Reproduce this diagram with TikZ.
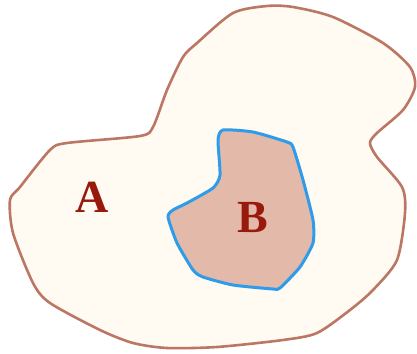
\documentclass[tikz,border=0pt]{standalone}
\usepackage{fontspec}
\setmainfont{Liberation Serif}
\definecolor{creamfill}{HTML}{FFFAF2}
\definecolor{brownline}{HTML}{BC7764}
\definecolor{pinkfill}{HTML}{E3B9A9}
\definecolor{blueline}{HTML}{2E9CEA}
\definecolor{labelred}{HTML}{981A0C}
\begin{document}
\begin{tikzpicture}[x=1pt,y=-1pt,
  regionA/.style={fill=creamfill,draw=brownline,line width=2.6pt,line join=round},
  regionB/.style={fill=pinkfill,draw=blueline,line width=3pt,line join=round},
  setlabel/.style={text=labelred,font=\fontsize{46}{46}\selectfont\bfseries,inner sep=0pt}]
\useasboundingbox (0,0) rectangle (417,353);
\draw[regionA] plot[smooth cycle,tension=0.45] coordinates {
 (267,6) (233,13) (197,43) (183,57) (167,90) (153,127) (140,136) (67,143)
 (50,150) (20,187) (10,200) (13,233) (33,283) (50,303) (100,330) (133,343)
 (167,348) (217,347) (283,340) (317,333) (350,310) (373,290) (397,260)
 (405,213) (402,187) (377,157) (370,143) (377,133) (403,110) (415,87)
 (410,67) (383,43) (333,17) (293,7)};
\draw[regionB] plot[smooth cycle,tension=0.35] coordinates {
 (223,130) (253,132) (287,142) (293,147) (303,180) (313,220) (313,243)
 (300,267) (280,288) (273,289) (233,285) (203,277) (193,270) (177,243)
 (168,217) (173,210) (187,203) (213,188) (220,175) (218,140)};
\node[setlabel] (A) at (92,197) {A};
\node[setlabel] (B) at (253,218) {B};
\end{tikzpicture}
\end{document}
